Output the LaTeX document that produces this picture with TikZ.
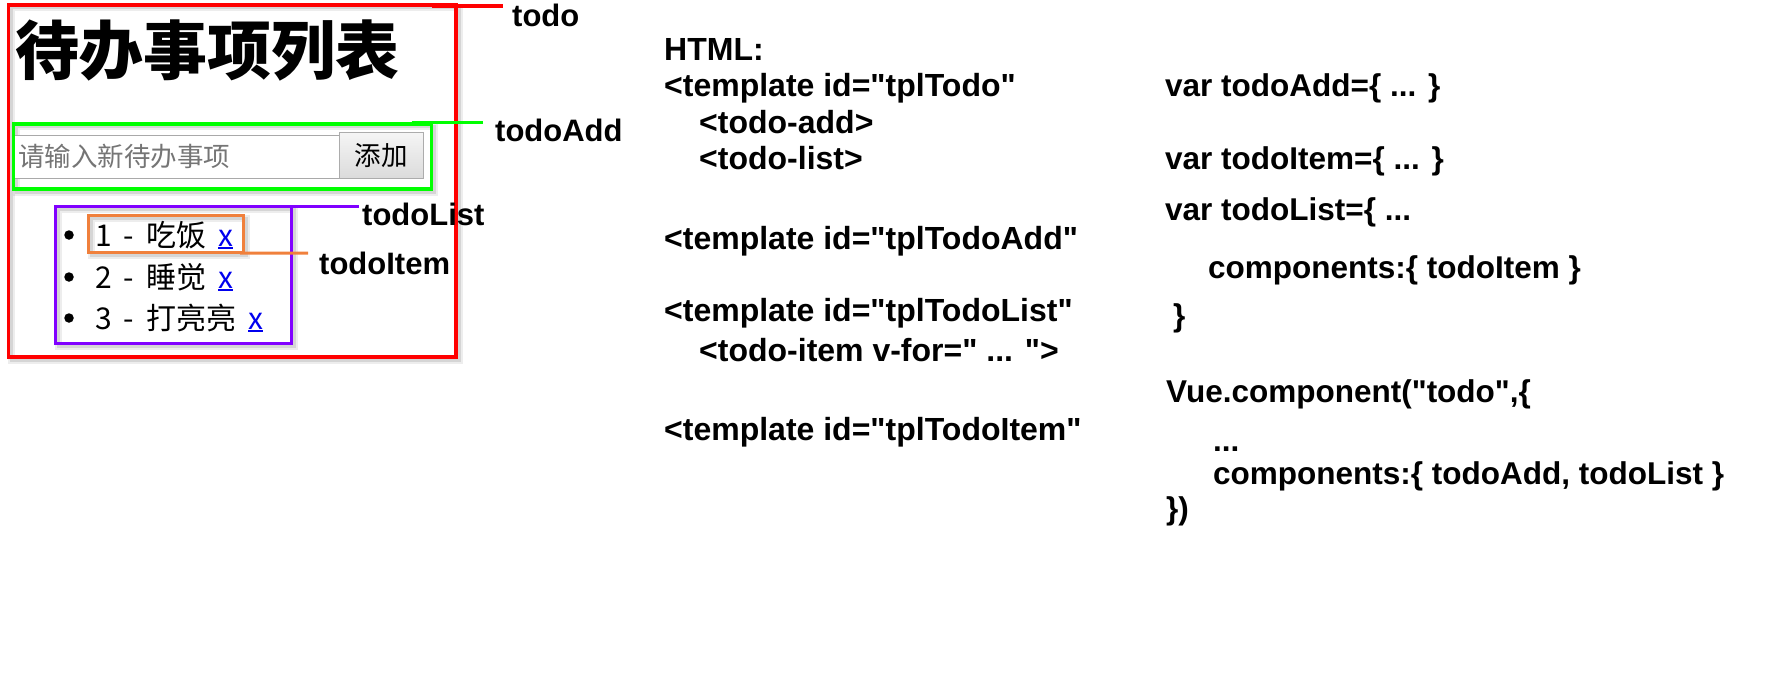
\documentclass[tikz,border=0pt]{standalone}
\usepackage{fontspec}
\setmainfont{Liberation Sans}[Ligatures=TeXOff]
\newfontfamily\cjk{Noto Sans CJK SC}[Ligatures=TeXOff]
\definecolor{todored}{RGB}{255,0,0}
\definecolor{todogreen}{RGB}{0,255,0}
\definecolor{todopurple}{RGB}{128,0,255}
\definecolor{todoorange}{RGB}{240,128,60}
\definecolor{linkblue}{RGB}{0,0,238}
\definecolor{phgray}{RGB}{117,117,117}
\definecolor{inputgray}{RGB}{169,169,169}
\definecolor{btngray}{RGB}{172,172,172}
\pgfdeclarelayer{background}
\pgfsetlayers{background,main}
\newcommand\ulx{\textcolor{linkblue}{\setbox0\hbox{x}\rlap{\rule[-3bp]{\wd0}{1.8bp}}x}}
\newcommand\itemfont{\cjk\fontsize{30bp}{36bp}\selectfont\spaceskip=12bp\relax}
\begin{document}
\begin{tikzpicture}[x=1bp,y=-1bp,
  frame/.style={draw, line width=3.5bp, inner sep=0pt, outer sep=0pt},
  shadewide/.style={draw=black, opacity=0.07, line width=7bp},
  shadenarrow/.style={draw=black, opacity=0.1, line width=3bp},
  callout/.style={line width=3bp},
  lbl/.style={anchor=base west, inner sep=0pt, font=\fontsize{31bp}{37bp}\selectfont\bfseries},
  code/.style={anchor=base west, inner sep=0pt, font=\fontsize{32bp}{38bp}\selectfont\bfseries},
  jscode/.style={anchor=base west, inner sep=0pt, font=\fontsize{31.5bp}{38bp}\selectfont\bfseries},
  item/.style={anchor=base west, inner sep=0pt, font=\itemfont},
  bulletdot/.style={circle, fill=black, inner sep=0pt, minimum size=9.5bp},
]
\useasboundingbox (0,0) rectangle (1769,678);

% page content (left)
\node[anchor=base west, inner sep=0pt, font=\cjk\bfseries\fontsize{64bp}{70bp}\selectfont] (title) at (15,75) {待办事项列表};

\node[draw=inputgray, line width=1bp, fill=white, minimum width=327bp, minimum height=42bp,
      anchor=north west, inner sep=0pt, outer sep=0pt] (input) at (12,136) {};
\node[anchor=base west, inner sep=0pt, text=phgray, font=\cjk\fontsize{26.5bp}{32bp}\selectfont] (ph) at (18,166.5) {请输入新待办事项};
\node[draw=btngray, line width=1bp, top color=white!96!black, bottom color=white!86!black,
      minimum width=84bp, minimum height=45bp, anchor=north west, inner sep=0pt, outer sep=0pt,
      font=\cjk\fontsize{26.5bp}{32bp}\selectfont] (btn) at (339,133) {添加};

\node[bulletdot] (b1) at (69,235) {};
\node[bulletdot] (b2) at (69,277) {};
\node[bulletdot] (b3) at (69,318) {};
\node[item] (i1) at (95,246) {1 - 吃饭 \ulx};
\node[item] (i2) at (95,288) {2 - 睡觉 \ulx};
\node[item] (i3) at (95,329) {3 - 打亮亮 \ulx};

% frames
\node[frame, draw=todored, minimum width=447.5bp, minimum height=352bp, anchor=north west] (todo) at (8.5,5) {};
\node[frame, draw=todogreen, minimum width=418bp, minimum height=65bp, anchor=north west] (todoAdd) at (13.5,124) {};
\node[frame, draw=todopurple, minimum width=236bp, minimum height=137bp, anchor=north west] (todoList) at (55.5,206.5) {};
\node[frame, draw=todoorange, line width=3bp, minimum width=154.5bp, minimum height=36.5bp, anchor=north west] (todoItem) at (88.5,215.5) {};

\begin{pgfonlayer}{background}
  \foreach \b in {todo,todoAdd,todoList,todoItem}{
    \draw[shadewide] ([shift={(3,3)}]\b.north west) rectangle ([shift={(3,3)}]\b.south east);
    \draw[shadenarrow] ([shift={(3,3)}]\b.north west) rectangle ([shift={(3,3)}]\b.south east);
  }
\end{pgfonlayer}

% callouts
\coordinate (todoEnd) at (503,6);
\coordinate (addEnd) at (483,123);
\coordinate (listEnd) at (359,206.5);
\coordinate (itemEnd) at (308,253);
\draw[callout, todored, line width=3.5bp] (todo.north east) ++(-24,1) -- (todoEnd);
\draw[callout, todogreen] (todoAdd.north east) ++(-20,-1) -- (addEnd);
\draw[callout, todopurple] (todoList.north east) ++(-20,0) -- (listEnd);
\draw[callout, todoorange] (todoItem.south east) ++(-3,1) -- (itemEnd);

\node[lbl] (lTodo) at (512,27) {todo};
\node[lbl] (lAdd) at (495,142) {todoAdd};
\node[lbl] (lList) at (362,225) {todoList};
\node[lbl] (lItem) at (319,274) {todoItem};

% HTML column
\node[code] (h0) at (664,61) {HTML:};
\node[code] (h1) at (664,97) {<template id="tplTodo"};
\node[code] (h2) at (699,134) {<todo-add>};
\node[code] (h3) at (699,170) {<todo-list>};
\node[code] (h4) at (664,249) {<template id="tplTodoAdd"};
\node[code] (h5) at (664,321) {<template id="tplTodoList"};
\node[code] (h6) at (699,361) {<todo-item v-for=" ... ">};
\node[code] (h7) at (664,440) {<template id="tplTodoItem"};

% JS column
\node[jscode] (j1) at (1165,97) {var todoAdd=\{ ... \}};
\node[jscode] (j2) at (1165,170) {var todoItem=\{ ... \}};
\node[jscode] (j3) at (1165,220) {var todoList=\{ ...};
\node[jscode] (j4) at (1208,278) {components:\{ todoItem \}};
\node[jscode] (j5) at (1173,326) {\}};
\node[jscode] (j6) at (1166,402) {Vue.component("todo",\{};
\node[jscode] (j7) at (1213,451) {...};
\node[jscode] (j8) at (1213,484) {components:\{ todoAdd, todoList \}};
\node[jscode] (j9) at (1166,519) {\})};
\end{tikzpicture}
\end{document}
